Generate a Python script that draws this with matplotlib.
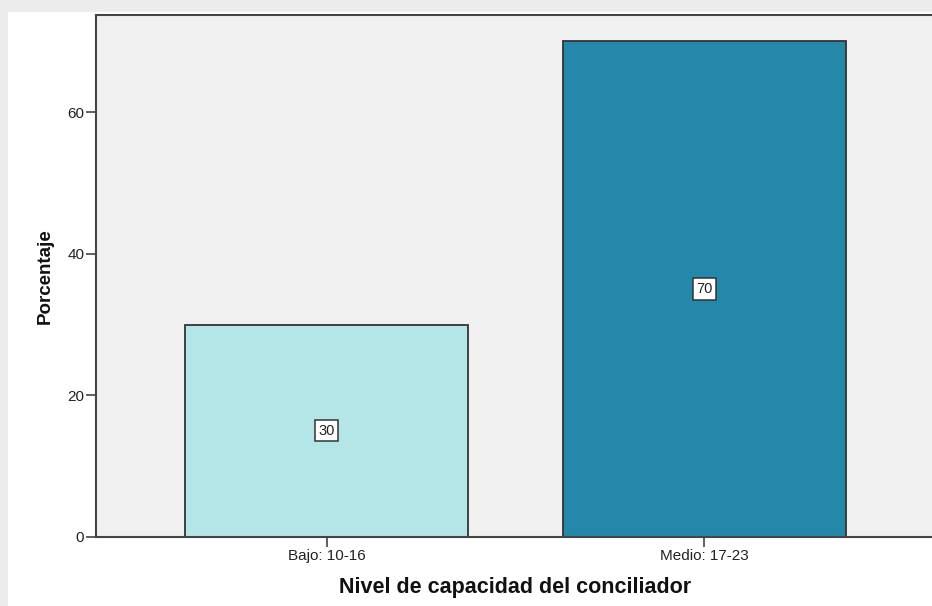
import matplotlib
matplotlib.use("Agg")
import matplotlib.pyplot as plt
from matplotlib.patches import Rectangle

categories = ["Bajo: 10-16", "Medio: 17-23"]
percentages = [30, 70]
value_labels = ["30", "70"]
bar_colors = ["#b4e6e8", "#2388a9"]
y_ticks = [0, 20, 40, 60]

plt.rcParams["font.family"] = ["Liberation Sans", "DejaVu Sans"]

W, H = 932, 606
fig = plt.figure(figsize=(W / 100, H / 100), dpi=100, facecolor="#ececec")

# white panel with a soft grey border on the top and left
fig.patches.append(Rectangle((8 / W, 0), 1, 1 - 12 / H, transform=fig.transFigure,
                             facecolor="white", edgecolor="none", zorder=-10))

left, right, top, bottom = 96, 935, 15, 537
ax = fig.add_axes([left / W, 1 - bottom / H, (right - left) / W, (bottom - top) / H])
ax.set_zorder(1)
ax.set_facecolor("#f0f0f0")

x = list(range(len(categories)))
ax.bar(x, percentages, width=0.75, color=bar_colors, edgecolor="#333333",
       linewidth=1.3, zorder=2)

for xi, v, lab in zip(x, percentages, value_labels):
    ax.text(xi, v / 2, lab, ha="center", va="center", fontsize=10.5, color="#222222",
            bbox=dict(boxstyle="square,pad=0.25", facecolor="white",
                      edgecolor="#333333", linewidth=1.1), zorder=3)

ax.set_xlim(-0.61, 1.61)
ax.set_ylim(0, 73.7)
ax.set_xticks(x)
ax.set_xticklabels(categories, fontsize=11, color="#222222")
ax.set_yticks(y_ticks)
ax.set_yticklabels([str(t) for t in y_ticks], fontsize=11, color="#222222")
ax.tick_params(axis="both", direction="out", length=7, width=1.2, color="#444444", pad=1.5)

for s in ax.spines.values():
    s.set_color("#444444")
    s.set_linewidth(1.5)

ax.set_xlabel("Nivel de capacidad del conciliador", fontsize=15.5, fontweight="bold",
              color="#111111", labelpad=10)
ax.set_ylabel("Porcentaje", fontsize=13.5, fontweight="bold", color="#111111",
              labelpad=10)

fig.savefig("out.png", dpi=100, facecolor=fig.get_facecolor())
